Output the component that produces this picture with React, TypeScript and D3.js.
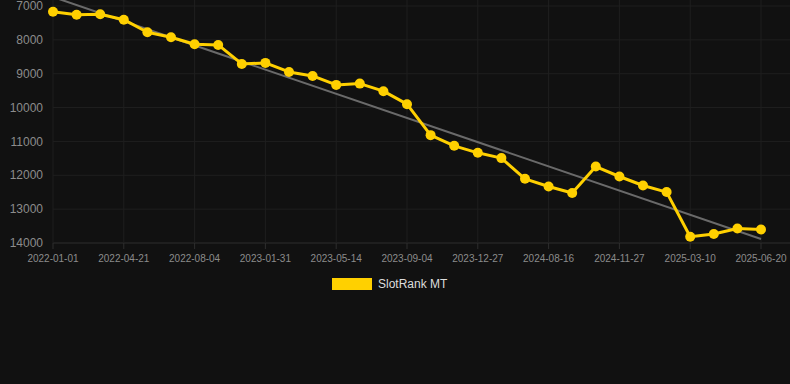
import React from 'react';
import {scalePoint, scaleLinear, line} from 'd3';

// category dates (only every third one is labelled on the axis)
const dates = [
  '2022-01-01', '2022-02-06', '2022-03-16', '2022-04-21', '2022-05-26', '2022-06-30',
  '2022-08-04', '2022-10-03', '2022-12-02', '2023-01-31', '2023-03-05', '2023-04-09',
  '2023-05-14', '2023-06-21', '2023-07-28', '2023-09-04', '2023-10-12', '2023-11-19',
  '2023-12-27', '2024-03-14', '2024-05-31', '2024-08-16', '2024-09-19', '2024-10-23',
  '2024-11-27', '2024-12-31', '2025-02-04', '2025-03-10', '2025-04-13', '2025-05-17',
  '2025-06-20'
];

const rankValues = [
  7170, 7257, 7245, 7404, 7776, 7923, 8130, 8150, 8711, 8680,
  8947, 9065, 9330, 9292, 9516, 9900, 10814, 11130, 11337, 11493,
  12104, 12331, 12525, 11741, 12036, 12301, 12496, 13815, 13735, 13570,
  13600
];

const yTicks = [7000, 8000, 9000, 10000, 11000, 12000, 13000, 14000];
const seriesName = 'SlotRank MT';

const W = 790;
const H = 384;
const left = 53;
const right = 761;
const gridRight = 790;
const top = 6;
const bottom = 243;
const font = '"Liberation Sans", Arial, sans-serif';

// simple least squares trend over the index
const trend = (vals: number[]) => {
  const n = vals.length;
  const mx = (n - 1) / 2;
  const my = vals.reduce((a, b) => a + b, 0) / n;
  let num = 0, den = 0;
  vals.forEach((v, i) => {
    num += (i - mx) * (v - my);
    den += (i - mx) * (i - mx);
  });
  const slope = num / den;
  return [my - slope * mx, my + slope * (n - 1 - mx)];
};

const App = () => {
  const x = scalePoint<string>().domain(dates).range([left, right]);
  const y = scaleLinear().domain([7000, 14000]).range([top, bottom]);

  const path = line<number>()
    .x((d, i) => x(dates[i]) as number)
    .y(d => y(d));

  const [t0, t1] = trend(rankValues);
  const labelled = dates.filter((d, i) => i % 3 === 0);

  return (
    <svg width={W} height={H} style={{position: 'absolute', left: 0, top: 0, background: '#111111'}}>
      <rect x={0} y={0} width={W} height={H} fill="#111111"/>
      <g className="grid">
        {yTicks.map(t => (
          <line key={t} x1={left} x2={gridRight} y1={y(t)} y2={y(t)}
            stroke={t === 14000 ? '#2e2e2e' : '#1f1f1f'} strokeWidth={1}/>
        ))}
        {labelled.map(d => (
          <line key={d} x1={x(d)} x2={x(d)} y1={0} y2={bottom} stroke="#1f1f1f" strokeWidth={1}/>
        ))}
        {labelled.map(d => (
          <line key={'t' + d} x1={x(d)} x2={x(d)} y1={bottom} y2={bottom + 6} stroke="#2e2e2e" strokeWidth={1}/>
        ))}
      </g>
      <g className="y-axis" fontFamily={font} fontSize={12} fill="#8c8c8c" textAnchor="end">
        {yTicks.map(t => (
          <text key={t} x={43} y={y(t)} dy="0.35em">{t}</text>
        ))}
      </g>
      <g className="x-axis" fontFamily={font} fontSize={10} fill="#8c8c8c" textAnchor="middle">
        {labelled.map(d => (
          <text key={d} x={x(d)} y={262}>{d}</text>
        ))}
      </g>
      <line x1={left} x2={right} y1={y(t0)} y2={y(t1)} stroke="#6a6a6a" strokeWidth={2}/>
      <path d={path(rankValues) || ''} fill="none" stroke="#ffd000" strokeWidth={3} strokeLinejoin="round"/>
      {rankValues.map((v, i) => (
        <circle key={i} cx={x(dates[i])} cy={y(v)} r={5} fill="#ffd000"/>
      ))}
      <g className="legend">
        <rect x={332} y={278} width={40} height={12} fill="#ffd000"/>
        <text x={378} y={284} dy="0.35em" fontFamily={font} fontSize={12} fill="#dddddd">{seriesName}</text>
      </g>
    </svg>
  );
};

export default App;
